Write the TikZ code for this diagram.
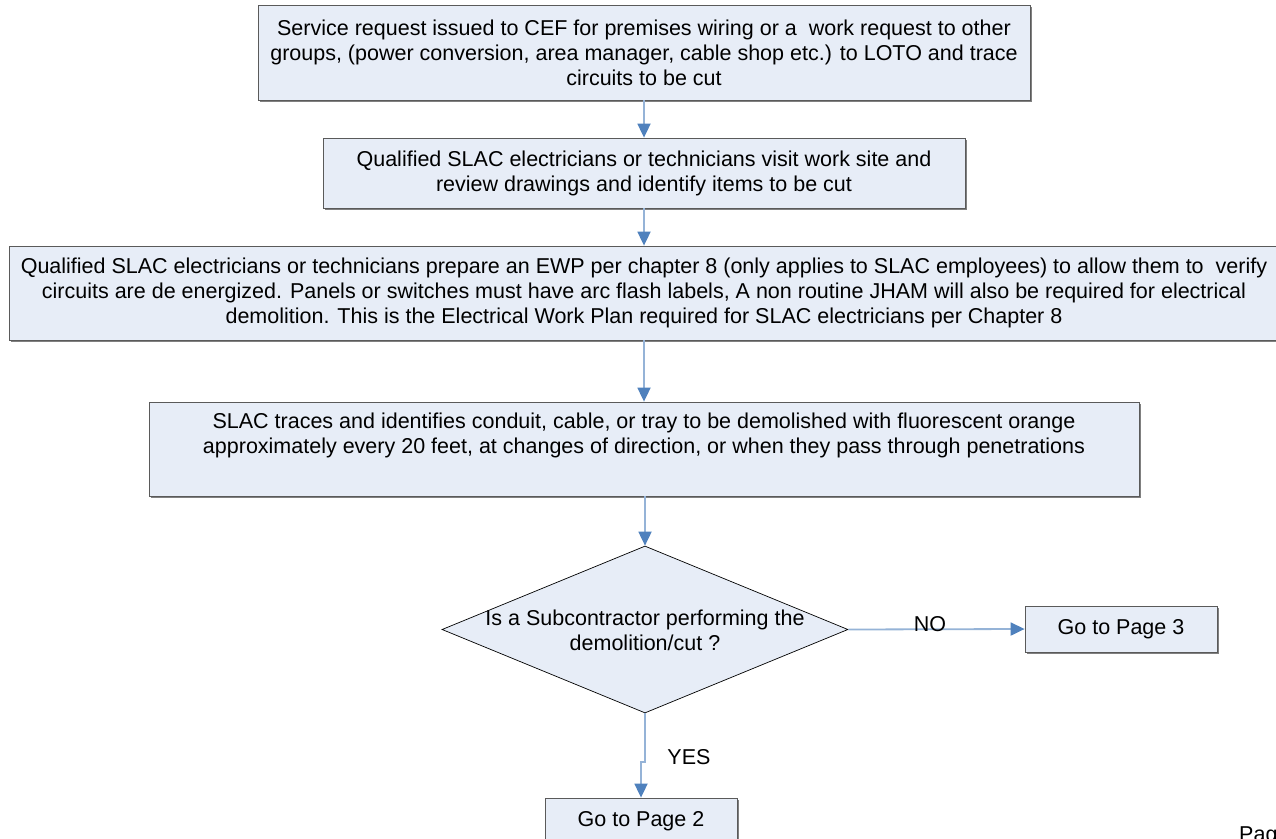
\documentclass[tikz,border=0pt]{standalone}
\usepackage{fontspec}
\setmainfont{Liberation Sans}
\usetikzlibrary{shapes.geometric,arrows.meta,shadows}
\definecolor{boxfill}{RGB}{231,237,247}
\definecolor{boxline}{RGB}{90,90,90}
\definecolor{shadowgray}{RGB}{128,128,128}
\definecolor{linkblue}{RGB}{149,179,215}
\definecolor{tipblue}{RGB}{79,129,189}
\tikzset{
  every node/.style={font=\fontsize{21.5bp}{25bp}\selectfont},
  procbox/.style={draw=boxline, line width=0.8bp, fill=boxfill, align=center,
    inner sep=0pt,
    drop shadow={shadow xshift=1.6bp, shadow yshift=-1.6bp, fill=shadowgray, opacity=1}},
  decbox/.style={diamond, draw=black, line width=0.7bp, fill=boxfill, inner sep=0pt},
  link/.style={draw=linkblue, line width=1.8bp,
    -{Triangle[length=14bp,width=13bp,color=tipblue]}},
  lbl/.style={inner sep=0pt, align=center}
}
\begin{document}
\begin{tikzpicture}[x=1bp,y=-1bp]
\useasboundingbox (0,0) rectangle (1276,839);
\fill[white] (0,0) rectangle (1276,839);
\clip (0,0) rectangle (1276,839);

\node[procbox, minimum width=772bp, minimum height=95bp] (b1) at (644,52.5)
 {Service request issued to CEF for premises wiring or a \ work request to other\\
  groups, (power conversion, area manager, cable shop etc.) to LOTO and trace\\
  circuits to be cut};

\node[procbox, minimum width=642bp, minimum height=70bp] (b2) at (644,173)
 {Qualified SLAC electricians or technicians visit work site and\\
  review drawings and identify items to be cut};

\node[procbox, minimum width=1270bp, minimum height=94bp] (b3) at (644,293)
 {Qualified SLAC electricians or technicians prepare an EWP per chapter 8 (only applies to SLAC employees) to allow them to \ verify\\
  circuits are de energized. Panels or switches must have arc flash labels, A non routine JHAM will also be required for electrical\\
  demolition. This is the Electrical Work Plan required for SLAC electricians per Chapter 8};

\node[procbox, minimum width=990bp, minimum height=94bp] (b4) at (644,449)
 {SLAC traces and identifies conduit, cable, or tray to be demolished with fluorescent orange\\
  approximately every 20 feet, at changes of direction, or when they pass through penetrations\\
  \strut};

\node[decbox, minimum width=406bp, minimum height=167bp] (dec) at (645,629.5) {};
\node[lbl] (dect) at (645,630)
 {Is a Subcontractor performing the\\demolition/cut ?};

\node[procbox, minimum width=192bp, minimum height=46bp] (gp3) at (1121,629) {Go to Page 3};
\node[procbox, minimum width=192bp, minimum height=46bp] (gp2) at (641,821) {Go to Page 2};

\draw[link] (b1.south) -- (b2.north);
\draw[link] (b2.south) -- (b3.north);
\draw[link] (b3.south) -- (b4.north);
\draw[link] (b4.south -| dec.north) -- (dec.north);
\draw[link] (dec.east) -- (gp3.west);
\coordinate (jog) at (645,762);
\draw[link] (dec.south) -- (jog) -| (gp2.north);

\node[lbl] (no) at (930,624) {NO};
\node[lbl] (yes) at (689,757) {YES};
\node[lbl, anchor=base west] (pg) at (1239,841.5) {Page 1};
\end{tikzpicture}
\end{document}
